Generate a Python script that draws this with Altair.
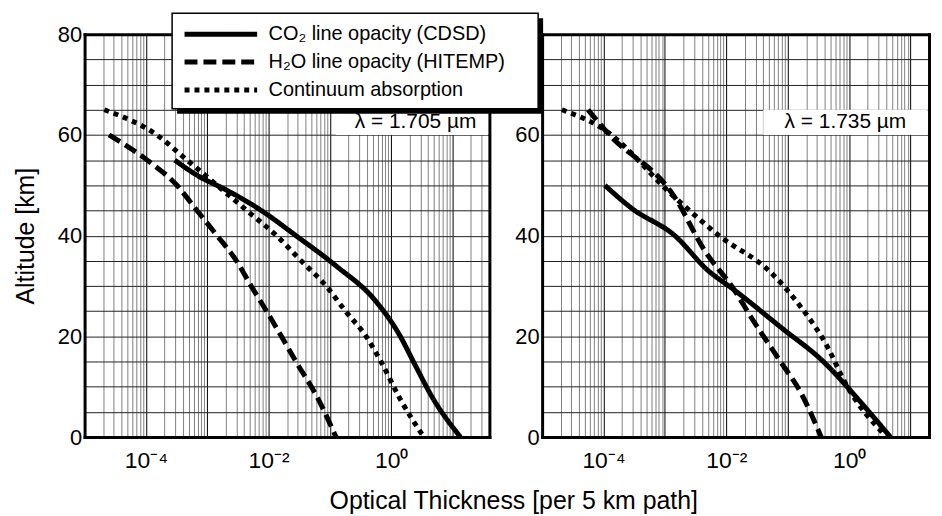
import altair as alt
import pandas as pd

FONT = "Liberation Sans"

series_names = ["CO₂ line opacity (CDSD)", "H₂O line opacity (HITEMP)", "Continuum absorption"]
dash_styles = [[1, 0], [13, 6], [5, 5]]

# ---- left panel: lambda = 1.705 um ----
l_co2_alt = [55, 52, 49, 45, 40, 34, 27, 20, 15, 7.5, 0]
l_co2_tau = [2.95e-4, 6.8e-4, 2.1e-3, 7.6e-3, 0.028, 0.126, 0.56, 1.41, 2.3, 4.9, 13.5]

l_h2o_alt = [60, 55, 50, 45, 40, 35, 30, 25, 20, 15, 7.5, 0]
l_h2o_tau = [2.5e-5, 1.05e-4, 3.2e-4, 6.8e-4, 1.45e-3, 3.0e-3, 5.2e-3, 9.3e-3, 0.0162, 0.028, 0.065, 0.126]

l_cont_alt = [65, 60, 55, 50, 45, 40, 35, 30, 25, 20, 15, 7.5, 0]
l_cont_tau = [2.1e-5, 1.5e-4, 4.7e-4, 1.45e-3, 4.4e-3, 0.0135, 0.034, 0.087, 0.18, 0.39, 0.68, 1.41, 3.4]

# ---- right panel: lambda = 1.735 um ----
r_co2_alt = [50, 45.4, 40, 33.2, 29.2, 21.3, 15.4, 6.9, 0]
r_co2_tau = [1.05e-4, 2.9e-4, 1.45e-3, 4.9e-3, 0.0135, 0.087, 0.35, 1.55, 4.7]

r_h2o_alt = [65, 60.4, 47.6, 37.1, 29.2, 23.9, 14.8, 8.9, 0]
r_h2o_tau = [5.6e-5, 1.17e-4, 1.45e-3, 4.4e-3, 0.0135, 0.025, 0.078, 0.162, 0.35]

r_cont_alt = [65, 61.4, 47.6, 40, 32.6, 25.9, 18, 10.9, 0]
r_cont_tau = [2.1e-5, 9.3e-5, 1.45e-3, 7.6e-3, 0.054, 0.162, 0.44, 0.85, 4.1]

left_domain = [1e-5, 40]
right_domain = [1e-5, 20]

left_label = ["λ = 1.705 µm"]
right_label = ["λ = 1.735 µm"]
left_label_pos = [2.5, 62.5]
right_label_pos = [0.87, 62.5]
left_box = [0.125, 38, 60, 65]
right_box = [0.04, 19, 60, 65]

y_ticks = list(range(0, 81, 5))


def make_df(groups):
    rows = []
    for name, alts, taus in groups:
        for a, t in zip(alts, taus):
            rows.append({"series": name, "alt": a, "tau": t})
    return pd.DataFrame(rows)


left_df = make_df([(series_names[0], l_co2_alt, l_co2_tau),
                   (series_names[1], l_h2o_alt, l_h2o_tau),
                   (series_names[2], l_cont_alt, l_cont_tau)])
right_df = make_df([(series_names[0], r_co2_alt, r_co2_tau),
                    (series_names[1], r_h2o_alt, r_h2o_tau),
                    (series_names[2], r_cont_alt, r_cont_tau)])


def x_ticks(domain):
    vals = []
    for e in range(-5, 3):
        for m in range(1, 10):
            v = m * 10.0 ** e
            if domain[0] * 0.999 <= v <= domain[1] * 1.001:
                vals.append(v)
    return vals


LOG10 = "(log(datum.value)/LN10)"
x_label_expr = (
    f"abs({LOG10}+4)<0.01 ? '10⁻⁴' : abs({LOG10}+2)<0.01 ? '10⁻²' : abs({LOG10})<0.01 ? '10⁰' : ''"
)
major_test = f"abs({LOG10} - round({LOG10})) < 0.001"


def panel(df, domain, width, label, label_pos, box, is_left):
    xscale = alt.Scale(type="log", domain=domain, nice=False)
    yscale = alt.Scale(domain=[0, 80], nice=False)

    x_axis = alt.Axis(
        orient="bottom",
        values=x_ticks(domain), labelExpr=x_label_expr, ticks=False,
        grid=True, gridColor={"condition": {"test": major_test, "value": "#000000"}, "value": "#808080"},
        gridWidth=1, domain=True, domainColor="black", domainWidth=3, domainCap="square",
        labelFont=FONT, labelFontSize=23, labelColor="black", labelPadding=13,
        labelOverlap=False, labelFlush=False, labelBound=False,
        title="Optical Thickness [per 5 km path]" if is_left else None,
        titleFont=FONT, titleFontSize=25, titleFontWeight="normal", titleColor="black",
        titleX=431, titleY=72, titleAlign="center", titleBaseline="alphabetic",
    )
    if is_left:
        y_expr = "datum.value % 20 == 0 ? datum.label : ''"
    else:
        y_expr = "(datum.value % 20 == 0 && datum.value < 80) ? datum.label : ''"
    y_axis = alt.Axis(
        orient="left",
        values=y_ticks, labelExpr=y_expr, ticks=False,
        grid=True, gridColor="#222222", gridWidth=1,
        domain=True, domainColor="black", domainWidth=3, domainCap="square",
        labelFont=FONT, labelFontSize=22, labelColor="black", labelPadding=3,
        labelOverlap=False,
        title="Altitude [km]" if is_left else None,
        titleFont=FONT, titleFontSize=25, titleFontWeight="normal", titleColor="black",
        titlePadding=19,
    )
    top_axis = alt.Axis(orient="top", labels=False, ticks=False, grid=False, title=None,
                        domain=True, domainColor="black", domainWidth=3, domainCap="square")
    right_axis = alt.Axis(orient="right", labels=False, ticks=False, grid=False, title=None,
                          domain=True, domainColor="black", domainWidth=3, domainCap="square")

    if is_left:
        legend = alt.Legend(
            orient="none", legendX=98, legendY=-14, title=None,
            symbolType="stroke", symbolSize=5329, symbolStrokeWidth=5,
            symbolStrokeColor="black", symbolFillColor="transparent",
            labelFont=FONT, labelFontSize=20, labelColor="black", labelOffset=9,
            clipHeight=28, rowPadding=0, padding=0, labelLimit=400,
        )
    else:
        legend = None

    lines = alt.Chart(df).mark_line(
        color="black", strokeWidth=5, interpolate="monotone", strokeCap="butt"
    ).encode(
        x=alt.X("tau:Q", scale=xscale, axis=x_axis),
        y=alt.Y("alt:Q", scale=yscale, axis=y_axis),
        strokeDash=alt.StrokeDash("series:N", scale=alt.Scale(domain=series_names, range=dash_styles),
                                  legend=legend),
        order=alt.Order("tau:Q"),
    )

    box_df = pd.DataFrame({"x0": [box[0]], "x1": [box[1]], "y0": [box[2]], "y1": [box[3]]})
    label_box = alt.Chart(box_df).mark_rect(fill="white").encode(
        x=alt.X("x0:Q", scale=xscale, axis=top_axis),
        x2="x1:Q",
        y=alt.Y("y0:Q", scale=yscale, axis=right_axis),
        y2="y1:Q",
    )
    text_df = pd.DataFrame({"tau": [label_pos[0]], "alt": [label_pos[1]], "label": label})
    text = alt.Chart(text_df).mark_text(
        font=FONT, fontSize=21, color="black", align="center", baseline="middle"
    ).encode(x=alt.X("tau:Q", scale=xscale, axis=None),
             y=alt.Y("alt:Q", scale=yscale, axis=None), text="label:N")

    layers = [lines, label_box, text]
    if is_left:
        shadow = alt.Chart(box_df).mark_rect(fill="black").encode(
            x=alt.value(93), x2=alt.value(461), y=alt.value(-16), y2=alt.value(80))
        frame = alt.Chart(box_df).mark_rect(fill="white", stroke="black", strokeWidth=1.5).encode(
            x=alt.value(88), x2=alt.value(456), y=alt.value(-21), y2=alt.value(75))
        layers += [shadow, frame]
    return alt.layer(*layers).resolve_axis(x="independent", y="independent").properties(
        width=width, height=405)


left = panel(left_df, left_domain, 407, left_label, left_label_pos, left_box, True)
right = panel(right_df, right_domain, 389, right_label, right_label_pos, right_box, False)

chart = alt.hconcat(left, right, spacing=53, bounds="flush").resolve_scale(
    strokeDash="independent"
).resolve_legend(strokeDash="independent").properties(
    padding={"left": 5, "top": 3, "right": 5, "bottom": 5}
).configure_view(stroke=None)

chart.save("out.html", embed_options={"renderer": "svg", "actions": False})
